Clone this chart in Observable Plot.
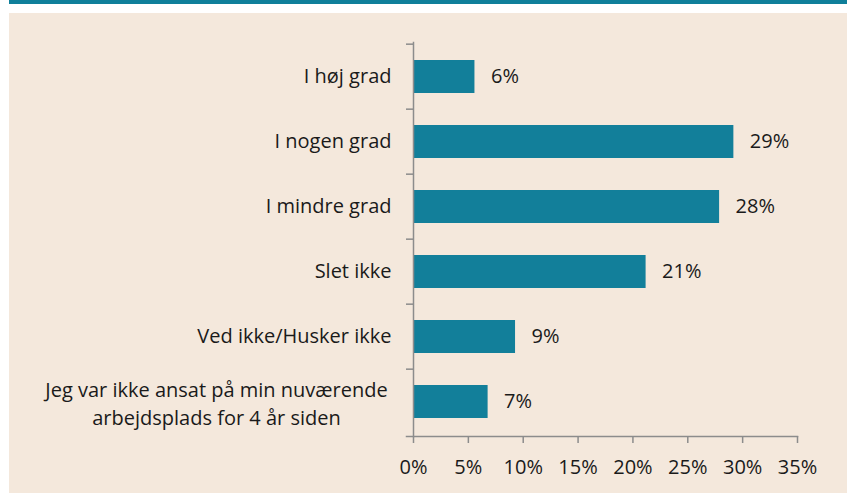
<!DOCTYPE html>
<html>
<head>
<meta charset="utf-8">
<script src="https://cdn.jsdelivr.net/npm/d3@7"></script>
<script src="https://cdn.jsdelivr.net/npm/@observablehq/plot@0.6"></script>
<style>
  html, body { margin: 0; padding: 0; background: #ffffff; }
  #wrap { position: relative; width: 847px; height: 493px; overflow: hidden; }
  #topbar { position: absolute; left: 9px; top: 0; width: 838px; height: 4px; background: #0f7f9a; }
  #panel { position: absolute; left: 9px; top: 13px; width: 838px; height: 480px; background: #f4e8dc; }
  #chart { position: absolute; left: 0; top: 0; }
  #chart svg { background: transparent; }
</style>
</head>
<body>
<div id="wrap">
  <div id="topbar"></div>
  <div id="panel"></div>
  <div id="chart"></div>
</div>
<script>
const categories = [
  "I høj grad",
  "I nogen grad",
  "I mindre grad",
  "Slet ikke",
  "Ved ikke/Husker ikke",
  "Jeg var ikke ansat på min nuværende\narbejdsplads for 4 år siden"
];
const values = [5.6, 29.2, 27.9, 21.2, 9.3, 6.8];
const valueLabels = ["6%", "29%", "28%", "21%", "9%", "7%"];
const xTicks = [0, 5, 10, 15, 20, 25, 30, 35];

const data = categories.map((c, i) => ({category: c, value: values[i], label: valueLabels[i]}));
const longLabel = categories[categories.length - 1];

const W = 847, H = 493;
const mL = 413, mR = 50, mT = 42, mB = 57;
const step = (H - mT - mB) / categories.length;
const axisColor = "#8c8c8c";
const textColor = "#1a1a1a";
const fs = 20;

const plot = Plot.plot({
  width: W,
  height: H,
  marginLeft: mL,
  marginRight: mR,
  marginTop: mT,
  marginBottom: mB,
  style: {fontFamily: "'Open Sans', 'Noto Sans', sans-serif", fontSize: fs + "px", color: textColor, background: "transparent"},
  x: {domain: [0, 35], label: null},
  y: {domain: categories, paddingInner: 0.5, paddingOuter: 0.25, label: null},
  marks: [
    Plot.barX(data, {x: "value", y: "category", fill: "#127f9a"}),
    Plot.text(data, {x: "value", y: "category", text: "label", dx: 16, textAnchor: "start", fill: textColor, fontSize: fs}),
    Plot.axisY({tickSize: 0, tickPadding: 22, label: null, tickFormat: d => d === longLabel ? "" : d, fill: textColor, fontSize: fs}),
    Plot.text([longLabel], {y: d => d, frameAnchor: "left", dx: -(mL - 216), textAnchor: "middle", lineHeight: 1.4, fill: textColor, fontSize: fs}),
    Plot.axisY({tickSize: 7, label: null, tickFormat: () => "", dy: -step / 2, stroke: axisColor, strokeWidth: 1.5}),
    Plot.axisX({ticks: xTicks, label: null, tickFormat: d => d + "%", tickSize: 7, tickPadding: 16, stroke: axisColor, strokeWidth: 1.5, fill: textColor, fontSize: fs}),
    Plot.frame({anchor: "left", stroke: axisColor, strokeWidth: 1.5}),
    Plot.frame({anchor: "bottom", insetLeft: -7, stroke: axisColor, strokeWidth: 1.5})
  ]
});
document.getElementById("chart").appendChild(plot);
</script>
</body>
</html>
